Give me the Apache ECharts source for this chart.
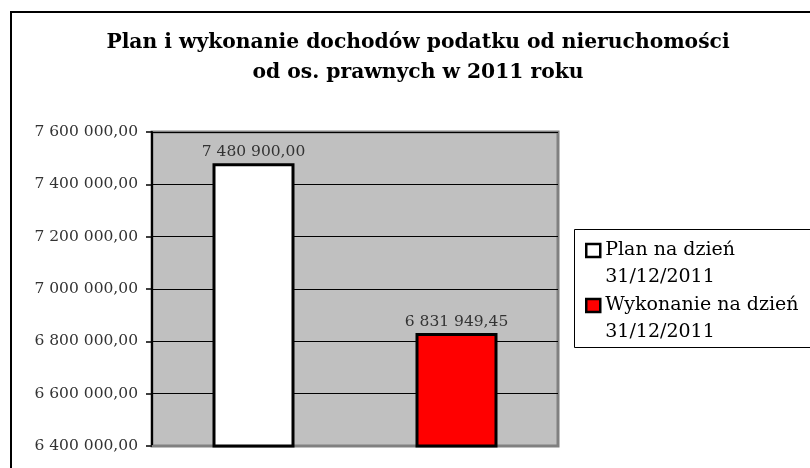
<!DOCTYPE html>
<html><head><meta charset="utf-8">
<script src="https://cdn.jsdelivr.net/npm/echarts@6/dist/echarts.min.js"></script>
<style>html,body{margin:0;padding:0;background:#fff;}#c{width:810px;height:468px;}</style>
</head><body><div id="c"></div>
<script>
const titleLines = ['Plan i wykonanie dochodów podatku od nieruchomości', 'od os. prawnych w 2011 roku'];
const categories = ['Plan', 'Wykonanie'];
const seriesNames = ['Plan na dzień\n31/12/2011', 'Wykonanie na dzień\n31/12/2011'];
const planValues = [7480900.00, '-'];
const execValues = ['-', 6831949.45];
const yMin = 6400000, yMax = 7600000, yStep = 200000;

function fmt(v){
  const s = Number(v).toFixed(2).split('.');
  return s[0].replace(/\B(?=(\d{3})+(?!\d))/g, ' ') + ',' + s[1];
}
const serif = 'DejaVu Serif';
const chart = echarts.init(document.getElementById('c'));
chart.setOption({
  animation:false,
  backgroundColor:'#fff',
  title:{text:titleLines.join('\n'), left:413, textAlign:'center', top:23,
    textStyle:{fontFamily:serif, fontWeight:'bold', fontSize:20.3, color:'#000', lineHeight:30}},
  graphic:[
    {type:'rect', shape:{x:11, y:12, width:900, height:600}, style:{fill:'none', stroke:'#000', lineWidth:2}, z:-10},
    {type:'rect', shape:{x:574.5, y:229.5, width:300, height:118}, style:{fill:'#fff', stroke:'#000', lineWidth:1}, z:0}
  ],
  grid:{left:152, right:252, top:132, bottom:22, show:true, backgroundColor:'#c0c0c0', borderColor:'#808080', borderWidth:3},
  xAxis:{type:'category', data:categories, axisLabel:{show:false}, axisTick:{show:false},
    axisLine:{lineStyle:{color:'#808080', width:2}}},
  yAxis:{type:'value', min:yMin, max:yMax, interval:yStep,
    axisLine:{show:true, lineStyle:{color:'#000', width:2}},
    axisTick:{show:true, length:6, lineStyle:{color:'#000', width:1.5}},
    splitLine:{lineStyle:{color:'#000', width:1.2}},
    axisLabel:{fontFamily:serif, fontSize:15.5, color:'#333', margin:14, formatter:v=>fmt(v)}},
  legend:{orient:'vertical', left:585, top:210, padding:0, itemGap:-26, icon:'rect',
    itemWidth:14, itemHeight:13,
    itemStyle:{borderColor:'#000', borderWidth:2.5},
    data:seriesNames,
    formatter:name=>'\n'+name,
    textStyle:{fontFamily:serif, fontSize:19, color:'#000', lineHeight:27}},
  series:[
    {name:seriesNames[0], type:'bar', data:planValues, barWidth:82, barGap:'-100%',
      itemStyle:{color:'#fff', borderColor:'#000', borderWidth:3},
      label:{show:true, position:'top', distance:3, fontFamily:serif, fontSize:15.5, color:'#333', formatter:p=>fmt(p.value)}},
    {name:seriesNames[1], type:'bar', data:execValues, barWidth:82,
      itemStyle:{color:'#ff0000', borderColor:'#000', borderWidth:3},
      label:{show:true, position:'top', distance:3, fontFamily:serif, fontSize:15.5, color:'#333', formatter:p=>fmt(p.value)}}
  ]
});
</script></body></html>
